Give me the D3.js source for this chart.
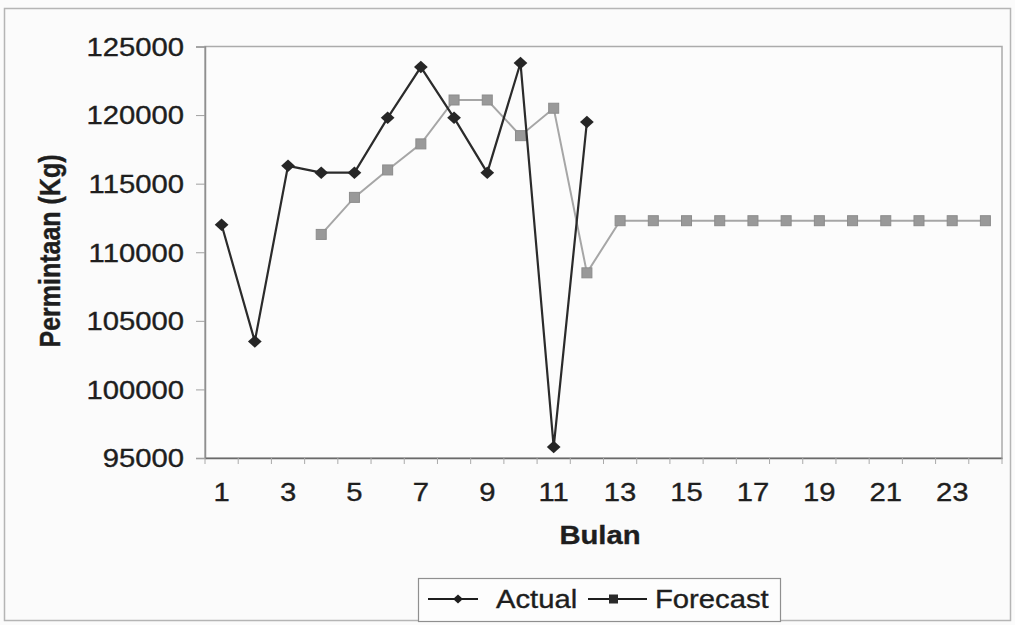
<!DOCTYPE html>
<html>
<head>
<meta charset="utf-8">
<script src="https://cdn.jsdelivr.net/npm/d3@7"></script>
<style>
  html, body { margin: 0; padding: 0; background: #fbfbfb; }
  svg { display: block; }
  text { font-family: "Liberation Sans", Arial, sans-serif; fill: #1e1e1e; stroke: #1e1e1e; stroke-width: 0.35px; }
</style>
</head>
<body>
<svg id="chart" width="1015" height="625"></svg>
<script>
// Month numbers (Bulan) on the category axis
const months = d3.range(1, 25);
// Labelled months on the x axis
const monthLabels = [1, 3, 5, 7, 9, 11, 13, 15, 17, 19, 21, 23];
// Actual demand (Kg), months 1–12
const actualMonths = [1, 2, 3, 4, 5, 6, 7, 8, 9, 10, 11, 12];
const actualValues = [112000, 103500, 116300, 115800, 115800, 119800, 123500, 119800, 115800, 123800, 95800, 119500];
// Forecast demand (Kg), months 4–24
const forecastMonths = [4, 5, 6, 7, 8, 9, 10, 11, 12, 13, 14, 15, 16, 17, 18, 19, 20, 21, 22, 23, 24];
const forecastValues = [111300, 114000, 116000, 117900, 121100, 121100, 118500, 120500, 108500,
  112300, 112300, 112300, 112300, 112300, 112300, 112300, 112300, 112300, 112300, 112300, 112300];
// Y-axis tick values
const yTicks = [95000, 100000, 105000, 110000, 115000, 120000, 125000];

const svg = d3.select("#chart");
const plot = { left: 205, right: 1002, top: 46.5, bottom: 458 };
const stretch = "scale(1.17,1)";

// Outer chart frame
svg.append("rect")
  .attr("x", 4.5).attr("y", 8.5).attr("width", 1006).attr("height", 612)
  .attr("fill", "#fbfbfb").attr("stroke", "#b5b5b5").attr("stroke-width", 1.5);

const x = d3.scaleBand().domain(months).range([plot.left, plot.right]).paddingInner(0).paddingOuter(0);
const y = d3.scaleLinear().domain([95000, 125000]).range([plot.bottom, plot.top]);
const cx = m => x(m) + x.bandwidth() / 2;

// Plot area frame
svg.append("rect")
  .attr("x", plot.left).attr("y", plot.top)
  .attr("width", plot.right - plot.left).attr("height", plot.bottom - plot.top)
  .attr("fill", "#fcfcfc").attr("stroke", "#ababab").attr("stroke-width", 1.5);

// Y axis
const yAxis = svg.append("g")
  .attr("transform", `translate(${plot.left},0)`)
  .call(d3.axisLeft(y).tickValues(yTicks).tickFormat(d3.format("d")).tickSize(9).tickPadding(0));
yAxis.select(".domain").attr("stroke", "#8f8f8f").attr("stroke-width", 1.5);
yAxis.selectAll(".tick line").attr("stroke", "#a0a0a0").attr("stroke-width", 1);
yAxis.selectAll(".tick text")
  .attr("x", 0).attr("dy", "0.35em")
  .attr("transform", `translate(-21,0) ${stretch}`)
  .style("font-size", "25px").attr("text-anchor", "end").attr("fill", "#1e1e1e");

// X axis: labels on odd months, tick marks between categories
const xAxis = svg.append("g")
  .attr("transform", `translate(0,${plot.bottom})`)
  .call(d3.axisBottom(x).tickValues(monthLabels).tickSize(0).tickPadding(0));
xAxis.select(".domain").attr("stroke", "#6a6a6a").attr("stroke-width", 1.5);
xAxis.selectAll(".tick text")
  .attr("y", 0).attr("dy", 0)
  .attr("transform", `translate(0,43) ${stretch}`)
  .style("font-size", "25px").attr("fill", "#1e1e1e");

svg.append("g").selectAll("line")
  .data(months.concat([25]))
  .join("line")
  .attr("x1", m => m <= 24 ? x(m) : plot.right)
  .attr("x2", m => m <= 24 ? x(m) : plot.right)
  .attr("y1", plot.bottom).attr("y2", plot.bottom + 6)
  .attr("stroke", "#aaaaaa").attr("stroke-width", 1);

// Axis titles
svg.append("text")
  .attr("transform", `translate(600,544) ${stretch}`)
  .attr("text-anchor", "middle")
  .style("font-size", "25px").style("font-weight", "bold")
  .text("Bulan");

svg.append("text")
  .attr("transform", `translate(60,251) ${stretch} rotate(-90)`)
  .attr("text-anchor", "middle")
  .style("font-size", "25px").style("font-weight", "bold")
  .text("Permintaan (Kg)");

// Series
const actual = actualMonths.map((m, i) => ({ m, v: actualValues[i] }));
const forecast = forecastMonths.map((m, i) => ({ m, v: forecastValues[i] }));
const line = d3.line().x(d => cx(d.m)).y(d => y(d.v));

svg.append("path").datum(forecast)
  .attr("d", line).attr("fill", "none")
  .attr("stroke", "#a6a6a6").attr("stroke-width", 2);

svg.append("g").selectAll("rect")
  .data(forecast).join("rect")
  .attr("x", d => cx(d.m) - 5).attr("y", d => y(d.v) - 5)
  .attr("width", 10).attr("height", 10)
  .attr("fill", "#999999").attr("stroke", "#8c8c8c").attr("stroke-width", 1);

svg.append("path").datum(actual)
  .attr("d", line).attr("fill", "none")
  .attr("stroke", "#2b2b2b").attr("stroke-width", 2.2);

// Diamond markers: a square turned 45°, slightly widened
const diamond = d3.symbol().type(d3.symbolSquare).size(78);
svg.append("g").selectAll("path")
  .data(actual).join("path")
  .attr("d", diamond)
  .attr("transform", d => `translate(${cx(d.m)},${y(d.v)}) scale(1.1,1) rotate(45)`)
  .attr("fill", "#262626");

// Legend
const legend = svg.append("g");
legend.append("rect")
  .attr("x", 418.5).attr("y", 578.5).attr("width", 362).attr("height", 43)
  .attr("fill", "#fdfdfd").attr("stroke", "#8f8f8f").attr("stroke-width", 1.2);
const ly = 599;
legend.append("line").attr("x1", 428).attr("x2", 478).attr("y1", ly).attr("y2", ly)
  .attr("stroke", "#1e1e1e").attr("stroke-width", 2);
legend.append("path").attr("d", d3.symbol().type(d3.symbolSquare).size(40))
  .attr("transform", `translate(458,${ly}) scale(1.1,1) rotate(45)`).attr("fill", "#1e1e1e");
legend.append("text").attr("transform", `translate(496,${ly + 9}) ${stretch}`)
  .style("font-size", "25px").text("Actual");
legend.append("line").attr("x1", 588).attr("x2", 647).attr("y1", ly).attr("y2", ly)
  .attr("stroke", "#1e1e1e").attr("stroke-width", 2);
legend.append("rect").attr("x", 609).attr("y", ly - 4.5).attr("width", 9).attr("height", 9)
  .attr("fill", "#2a2a2a");
legend.append("text").attr("transform", `translate(655,${ly + 9}) ${stretch}`)
  .style("font-size", "25px").text("Forecast");
</script>
</body>
</html>
